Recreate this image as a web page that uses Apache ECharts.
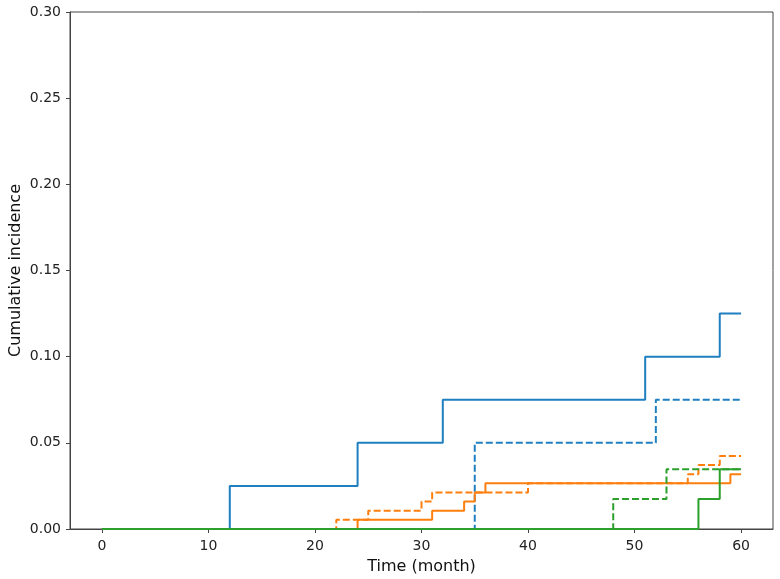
<!DOCTYPE html>
<html>
<head>
<meta charset="utf-8">
<script src="https://cdn.jsdelivr.net/npm/echarts@6/dist/echarts.min.js"></script>
<style>
  html, body { margin: 0; padding: 0; background: #fff; }
  #chart { width: 780px; height: 579px; }
</style>
</head>
<body>
<div id="chart"></div>
<script>
// step curves: time where the value starts, cumulative incidence from then on
const blueSolidT = [0, 12, 24, 32, 51, 58, 60]
const blueSolidY = [0, 0.025, 0.05, 0.075, 0.1, 0.125, 0.125]
const blueDashT = [0, 35, 52, 60]
const blueDashY = [0, 0.05, 0.075, 0.075]
const orangeSolidT = [0, 24, 31, 34, 35, 36, 59, 60]
const orangeSolidY = [0, 0.0053, 0.0106, 0.0159, 0.0212, 0.0265, 0.0318, 0.0318]
const orangeDashT = [0, 22, 25, 30, 31, 40, 55, 56, 58, 60]
const orangeDashY = [0, 0.0053, 0.0106, 0.0159, 0.0212, 0.0265, 0.0318, 0.0371, 0.0424, 0.0424]
const greenSolidT = [0, 56, 58, 60]
const greenSolidY = [0, 0.0174, 0.0347, 0.0347]
const greenDashT = [0, 48, 53, 60]
const greenDashY = [0, 0.0174, 0.0347, 0.0347]

const xTicks = [0, 10, 20, 30, 40, 50, 60]

const pairs = (t, y) => t.map((v, i) => [v, y[i]])
const dash = [7, 3]

function stepSeries (t, y, color, type) {
  return {
    type: 'line',
    step: 'end',
    data: pairs(t, y),
    symbol: 'none',
    lineStyle: { color: color, width: 2, type: type },
    animation: false
  }
}

const chart = echarts.init(document.getElementById('chart'))
chart.setOption({
  backgroundColor: '#fff',
  textStyle: { fontFamily: 'DejaVu Sans' },
  grid: {
    left: 70, right: 7, top: 12, bottom: 50,
    outerBoundsMode: 'none',
    containLabel: false,
    show: true, borderColor: '#444', borderWidth: 1
  },
  xAxis: {
    type: 'value',
    min: -3,
    max: 63,
    name: 'Time (month)',
    nameLocation: 'middle',
    nameGap: 30,
    nameMoveOverlap: false,
    nameTextStyle: { fontSize: 16, color: '#111' },
    splitLine: { show: false },
    axisLine: { show: true, onZero: false, lineStyle: { color: '#444' } },
    axisTick: { show: true, length: 4, lineStyle: { color: '#444' }, customValues: xTicks },
    axisLabel: { fontSize: 14, color: '#222', margin: 10, customValues: xTicks }
  },
  yAxis: {
    type: 'value',
    min: 0,
    max: 0.3,
    interval: 0.05,
    name: 'Cumulative incidence',
    nameLocation: 'middle',
    nameGap: 46,
    nameMoveOverlap: false,
    nameTextStyle: { fontSize: 16, color: '#111' },
    splitLine: { show: false },
    axisLine: { show: true, onZero: false, lineStyle: { color: '#444' } },
    axisTick: { show: true, length: 4, lineStyle: { color: '#444' } },
    axisLabel: { fontSize: 14, color: '#222', margin: 9, formatter: v => v.toFixed(2) }
  },
  series: [
    stepSeries(blueSolidT, blueSolidY, '#1f7fc0', 'solid'),
    stepSeries(blueDashT, blueDashY, '#1f7fc0', dash),
    stepSeries(orangeSolidT, orangeSolidY, '#ff7f0e', 'solid'),
    stepSeries(orangeDashT, orangeDashY, '#ff7f0e', dash),
    stepSeries(greenSolidT, greenSolidY, '#2ca02c', 'solid'),
    stepSeries(greenDashT, greenDashY, '#2ca02c', dash)
  ]
})
</script>
</body>
</html>
